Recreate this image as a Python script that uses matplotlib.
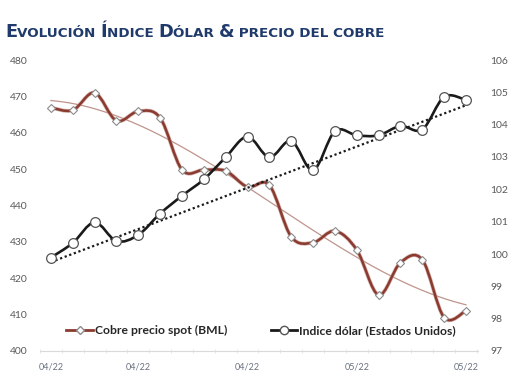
import numpy as np
import matplotlib
matplotlib.use('Agg')
import matplotlib.pyplot as plt
from matplotlib.path import Path
from matplotlib.patches import PathPatch
from matplotlib.lines import Line2D

x_labels = ['04/22', '04/22', '04/22', '05/22', '05/22']
x_label_pos = [0, 4, 9, 14, 19]
cobre = [466.9, 466.2, 471.0, 463.3, 465.9, 464.1, 449.8, 449.8, 449.5, 445.1,
         445.6, 431.4, 429.8, 433.0, 427.8, 415.4, 424.3, 425.1, 409.2, 411.1]
dolar = [99.89, 100.34, 100.98, 100.40, 100.59, 101.25, 101.80, 102.31, 102.99, 103.63,
         102.99, 103.50, 102.59, 103.80, 103.67, 103.67, 103.96, 103.85, 104.86, 104.76]
# linear trend of the dollar index as drawn (start / end values)
dolar_trend = [99.75, 104.6]

cobre_color = '#8B3A30'
dolar_color = '#1A1A1A'
title_color = '#1F3A6B'
tick_color = '#595959'


def smooth_path(xs, ys):
    # excel style smoothed line: cubic bezier, tension 1/6
    xs = np.asarray(xs, float)
    ys = np.asarray(ys, float)
    n = len(xs)
    verts = [(xs[0], ys[0])]
    codes = [Path.MOVETO]
    for i in range(n - 1):
        i0 = max(i - 1, 0)
        i2 = min(i + 2, n - 1)
        c1 = (xs[i] + (xs[i + 1] - xs[i0]) / 6, ys[i] + (ys[i + 1] - ys[i0]) / 6)
        c2 = (xs[i + 1] - (xs[i2] - xs[i]) / 6, ys[i + 1] - (ys[i2] - ys[i]) / 6)
        verts += [c1, c2, (xs[i + 1], ys[i + 1])]
        codes += [Path.CURVE4] * 3
    return Path(verts, codes)


x = np.arange(len(cobre))

fig = plt.figure(figsize=(5.1, 3.82), dpi=100)
ax = fig.add_axes([40 / 510, 31 / 382, 438 / 510, 291 / 382])
ax2 = ax.twinx()

# copper
ax.add_patch(PathPatch(smooth_path(x, cobre), fill=False, edgecolor='#D4B3AD', lw=2.8, zorder=2))
ax.add_patch(PathPatch(smooth_path(x, cobre), fill=False, edgecolor=cobre_color, lw=1.8, zorder=3))
c_fit = np.polyfit(x, cobre, 3)
xt = np.linspace(0, len(x) - 1, 200)
ax.plot(xt, np.polyval(c_fit, xt), color='#BE958C', lw=0.9, zorder=2)
ax.plot(x, cobre, linestyle='none', marker='D', ms=4.5, mfc='white', mec='#8C8C8C',
        mew=0.8, zorder=4)

# dollar index
ax2.add_patch(PathPatch(smooth_path(x, dolar), fill=False, edgecolor=dolar_color, lw=1.9, zorder=3))
ax2.plot([x[0], x[-1]], dolar_trend, color='#1A1A1A', lw=1.6,
         linestyle=(0, (1, 1.2)), zorder=2)
ax2.plot(x, dolar, linestyle='none', marker='o', ms=7, mfc='white', mec='#555555',
         mew=0.9, zorder=4)

ax.set_xlim(-0.5, 19.55)
ax.set_ylim(400, 480)
ax2.set_ylim(97, 106)
ax.set_yticks(np.arange(400, 481, 10))
ax2.set_yticks(np.arange(97, 107, 1))

ax.set_xticks(x_label_pos)
ax.set_xticklabels(x_labels)
ax.set_xticks(np.arange(-0.5, 20, 1), minor=True)

for a in (ax, ax2):
    for s in a.spines.values():
        s.set_visible(False)
ax.spines['bottom'].set_visible(True)
ax.spines['bottom'].set_color('#D9D9D9')
ax.spines['bottom'].set_linewidth(0.8)

ax.tick_params(axis='y', length=0, labelsize=7.5, labelcolor=tick_color, pad=9)
ax2.tick_params(axis='y', length=0, labelsize=7.5, labelcolor=tick_color, pad=9)
ax.tick_params(axis='x', which='major', length=0, labelsize=6.5, labelcolor='#6A7280', pad=8)
ax.tick_params(axis='x', which='minor', length=3, color='#E3E3E3', direction='inout')
for lab in ax.get_yticklabels() + ax2.get_yticklabels() + ax.get_xticklabels():
    lab.set_fontfamily('Lato')

handles = [
    Line2D([], [], color=cobre_color, lw=2, marker='D', ms=4.5, mfc='white', mec='#8C8C8C'),
    Line2D([], [], color=dolar_color, lw=2, marker='o', ms=6, mfc='white', mec='#555555'),
]
leg = ax2.legend(handles, ['Cobre precio spot (BML)', 'Indice dólar (Estados Unidos)'],
                 loc='center', bbox_to_anchor=(0.505, 0.07), ncol=2, frameon=False,
                 handlelength=2.2, handletextpad=0.15, columnspacing=3.6,
                 prop={'family': 'Lato', 'weight': 'bold', 'size': 8.7})
for t in leg.get_texts():
    t.set_color('#262626')

# small caps title
parts = [('E', 12.8), ('VOLUCIÓN ', 9.7), ('Í', 12.8), ('NDICE ', 9.7), ('D', 12.8),
         ('ÓLAR ', 9.7), ('&', 12.8), (' PRECIO DEL COBRE', 9.7)]
r = fig.canvas.get_renderer()
xpos = 5 / 510
for s, size in parts:
    t = fig.text(xpos, 1 - 37 / 382, s, fontsize=size, fontweight='bold', color=title_color,
                 family='DejaVu Sans', va='baseline', ha='left')
    w, h, d = r.get_text_width_height_descent(s.replace(' ', '\u00a0'), t.get_fontproperties(), ismath=False)
    xpos += w / fig.bbox.width

fig.savefig('out.png', dpi=100)
